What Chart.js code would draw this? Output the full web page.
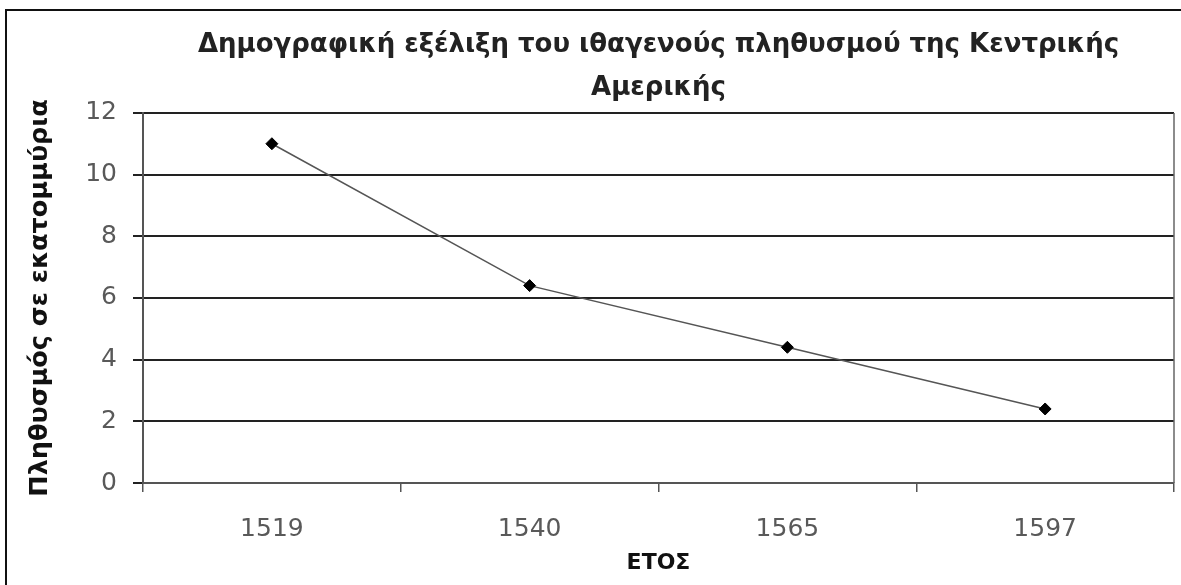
<!DOCTYPE html>
<html>
<head>
<meta charset="utf-8">
<script src="https://cdn.jsdelivr.net/npm/chart.js@4/dist/chart.umd.min.js"></script>
<style>
  html, body { margin: 0; padding: 0; background: #fff; overflow: hidden; }
  #wrap { position: relative; width: 1181px; height: 585px; }
  #frame {
    position: absolute; left: 5px; top: 9px; width: 1200px; height: 620px;
    border: 2px solid #111; pointer-events: none;
  }
</style>
</head>
<body>
<div id="wrap">
  <canvas id="chart" width="1181" height="585"></canvas>
  <div id="frame"></div>
</div>
<script>
const years = ["1519", "1540", "1565", "1597"];
const population = [11, 6.4, 4.4, 2.4];
const titleLines = [
  "Δημογραφική εξέλιξη του ιθαγενούς πληθυσμού της Κεντρικής",
  "Αμερικής",
];
const yTitle = "Πληθυσμός σε εκατομμύρια";
const xTitle = "ΕΤΟΣ";

const FONT = "'DejaVu Sans', sans-serif";

// right edge of the plot area (Excel draws a thin box line there)
const rightBorder = {
  id: "rightBorder",
  afterDraw(chart) {
    const { ctx, chartArea } = chart;
    ctx.save();
    ctx.strokeStyle = "#666";
    ctx.lineWidth = 1.5;
    ctx.beginPath();
    ctx.moveTo(chartArea.right, chartArea.top);
    ctx.lineTo(chartArea.right, chartArea.bottom);
    ctx.stroke();
    ctx.restore();
  },
};

new Chart(document.getElementById("chart").getContext("2d"), {
  type: "line",
  data: {
    labels: years,
    datasets: [
      {
        data: population,
        borderColor: "#555",
        borderWidth: 1.5,
        pointStyle: "rectRot",
        pointRadius: 6,
        pointBackgroundColor: "#000",
        pointBorderColor: "#000",
        pointBorderWidth: 1,
        tension: 0,
      },
    ],
  },
  plugins: [rightBorder],
  options: {
    responsive: false,
    animation: false,
    layout: { padding: { left: 25, right: 7, top: 0, bottom: 0 } },
    plugins: {
      legend: { display: false },
      tooltip: { enabled: false },
      title: {
        display: true,
        fullSize: false,
        text: titleLines,
        color: "#222",
        font: { family: FONT, size: 26, weight: "bold", lineHeight: 1.65 },
        padding: { top: 23.5, bottom: 3.6 },
      },
    },
    scales: {
      x: {
        offset: true,
        grid: {
          offset: true,
          drawOnChartArea: false,
          color: "#555",
          lineWidth: 1.5,
          tickLength: 9,
        },
        border: { color: "#555", width: 2 },
        ticks: {
          color: "#595959",
          font: { family: FONT, size: 25 },
          padding: 22,
        },
        title: {
          display: true,
          text: xTitle,
          color: "#111",
          font: { family: FONT, size: 22, weight: "bold" },
          padding: { top: 0, bottom: 9 },
        },
        afterFit(scale) {
          scale.height = 102;
        },
      },
      y: {
        min: 0,
        max: 12,
        ticks: {
          stepSize: 2,
          color: "#595959",
          font: { family: FONT, size: 25 },
          padding: 16,
        },
        grid: {
          color: "#222",
          lineWidth: 2,
          tickLength: 10,
        },
        border: { color: "#555", width: 2 },
        title: {
          display: true,
          text: yTitle,
          color: "#111",
          font: { family: FONT, size: 25.5, weight: "bold" },
          padding: { top: 0, bottom: 0 },
        },
        afterFit(scale) {
          scale.width = 118;
        },
      },
    },
  },
});
</script>
</body>
</html>
